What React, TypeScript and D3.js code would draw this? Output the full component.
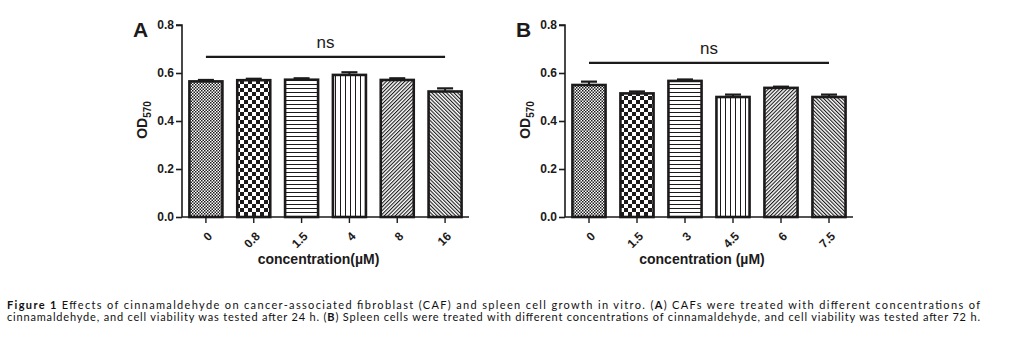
import { useEffect, useRef } from 'react';
import * as d3 from 'd3';

// panel A: CAF, 24 h
const catsA = ['0', '0.8', '1.5', '4', '8', '16'];
const valsA = [0.565, 0.57, 0.572, 0.592, 0.571, 0.523];
const errA = [0.006, 0.006, 0.006, 0.011, 0.007, 0.013];

// panel B: spleen cells, 72 h
const catsB = ['0', '1.5', '3', '4.5', '6', '7.5'];
const valsB = [0.55, 0.515, 0.567, 0.5, 0.538, 0.5];
const errB = [0.014, 0.008, 0.006, 0.01, 0.005, 0.01];

const yTicks = [0, 0.2, 0.4, 0.6, 0.8];
const patterns = ['fineCheck', 'coarseCheck', 'hLines', 'vLines', 'diagUp', 'diagDown'];

const INK = '#1c1a1a';

const App = () => {
  const ref = useRef<SVGSVGElement>(null!);

  useEffect(() => {
    const svg = d3.select(ref.current);
    svg.selectAll('*').remove();

    const defs = svg.append('defs');
    const fc = defs.append('pattern').attr('id', 'fineCheck').attr('patternUnits', 'userSpaceOnUse').attr('width', 3).attr('height', 3);
    fc.append('rect').attr('width', 3).attr('height', 3).attr('fill', '#fff');
    fc.append('rect').attr('width', 1.5).attr('height', 1.5).attr('fill', INK);
    fc.append('rect').attr('x', 1.5).attr('y', 1.5).attr('width', 1.5).attr('height', 1.5).attr('fill', INK);

    const cc = defs.append('pattern').attr('id', 'coarseCheck').attr('patternUnits', 'userSpaceOnUse').attr('width', 8).attr('height', 8);
    cc.append('rect').attr('width', 8).attr('height', 8).attr('fill', '#fff');
    cc.append('rect').attr('width', 4).attr('height', 4).attr('fill', INK);
    cc.append('rect').attr('x', 4).attr('y', 4).attr('width', 4).attr('height', 4).attr('fill', INK);

    const hl = defs.append('pattern').attr('id', 'hLines').attr('patternUnits', 'userSpaceOnUse').attr('width', 4).attr('height', 4);
    hl.append('rect').attr('width', 4).attr('height', 4).attr('fill', '#fff');
    hl.append('rect').attr('width', 4).attr('height', 1).attr('fill', INK);

    const vl = defs.append('pattern').attr('id', 'vLines').attr('patternUnits', 'userSpaceOnUse').attr('width', 5).attr('height', 5);
    vl.append('rect').attr('width', 5).attr('height', 5).attr('fill', '#fff');
    vl.append('rect').attr('width', 1).attr('height', 5).attr('fill', INK);

    [['diagUp', 45], ['diagDown', -45]].forEach(([id, a]) => {
      const p = defs.append('pattern').attr('id', id as string).attr('patternUnits', 'userSpaceOnUse')
        .attr('width', 2.6).attr('height', 2.6).attr('patternTransform', `rotate(${a})`);
      p.append('rect').attr('width', 2.6).attr('height', 2.6).attr('fill', '#fff');
      p.append('rect').attr('width', 1.1).attr('height', 2.6).attr('fill', INK);
    });

    const y = d3.scaleLinear().domain([0, 0.8]).range([217, 25]);

    const drawPanel = (
      x0: number, x1: number, letter: string, cats: string[], vals: number[], errs: number[],
      nsLevel: number, title: string,
    ) => {
      const g = svg.append('g');
      const x = d3.scaleBand().domain(cats).range([x0, x1]).paddingInner(0.31).paddingOuter(0.155);

      // bars
      cats.forEach((c, i) => {
        const bx = x(c)!;
        const cx = bx + x.bandwidth() / 2;
        g.append('line').attr('x1', cx).attr('x2', cx).attr('y1', y(vals[i])).attr('y2', y(vals[i] + errs[i]))
          .attr('stroke', INK).attr('stroke-width', 2);
        g.append('line').attr('x1', cx - 8).attr('x2', cx + 8).attr('y1', y(vals[i] + errs[i])).attr('y2', y(vals[i] + errs[i]))
          .attr('stroke', INK).attr('stroke-width', 2.2);
        g.append('rect').attr('x', bx).attr('y', y(vals[i])).attr('width', x.bandwidth()).attr('height', y(0) - y(vals[i]))
          .attr('fill', `url(#${patterns[i]})`).attr('stroke', INK).attr('stroke-width', 2.6);
      });

      // y axis
      const ya = g.append('g').attr('transform', `translate(${x0},0)`)
        .call(d3.axisLeft(y).tickValues(yTicks).tickFormat(d3.format('.1f')).tickSize(6).tickPadding(2));
      ya.select('.domain').attr('stroke', INK).attr('stroke-width', 1.6).attr('d', `M-6,${y(0.8)}H0V${y(0)}`);
      ya.selectAll('line').attr('stroke', INK).attr('stroke-width', 1.6);
      ya.selectAll('text').attr('font-family', 'Liberation Sans, Arial, sans-serif').attr('font-weight', 'bold')
        .attr('font-size', 12).attr('fill', INK);

      // x axis
      const xa = g.append('g').attr('transform', `translate(0,${y(0)})`)
        .call(d3.axisBottom(x).tickSize(6).tickSizeOuter(0));
      xa.select('.domain').attr('stroke', INK).attr('stroke-width', 1.6).attr('d', `M${x0},0H${x1}`);
      xa.selectAll('line').attr('stroke', INK).attr('stroke-width', 1.4);
      xa.selectAll('text')
        .attr('font-family', 'Liberation Sans, Arial, sans-serif').attr('font-weight', 'bold').attr('font-size', 12)
        .attr('fill', INK).attr('text-anchor', 'end').attr('y', 0).attr('dy', '0.35em')
        .attr('transform', 'translate(4,17) rotate(-45)');

      // labels
      g.append('text').attr('x', x0 - 49).attr('y', 37).text(letter)
        .attr('font-family', 'Liberation Sans, Arial, sans-serif').attr('font-weight', 'bold').attr('font-size', 21).attr('fill', INK);
      const yl = g.append('text').attr('transform', `translate(${x0 - 35},120) rotate(-90)`).attr('text-anchor', 'middle')
        .attr('font-family', 'Liberation Sans, Arial, sans-serif').attr('font-weight', 'bold').attr('font-size', 14).attr('fill', INK);
      yl.append('tspan').text('OD');
      yl.append('tspan').text('570').attr('font-size', 10).attr('dy', 4);
      g.append('text').attr('x', (x0 + x1) / 2 - 7).attr('y', 264).attr('text-anchor', 'middle').text(title)
        .attr('font-family', 'Liberation Sans, Arial, sans-serif').attr('font-weight', 'bold').attr('font-size', 14).attr('fill', INK);

      // significance bar
      const c0 = x(cats[0])! + x.bandwidth() / 2;
      const c1 = x(cats[cats.length - 1])! + x.bandwidth() / 2;
      g.append('line').attr('x1', c0).attr('x2', c1).attr('y1', y(nsLevel)).attr('y2', y(nsLevel))
        .attr('stroke', INK).attr('stroke-width', 2.4);
      g.append('text').attr('x', (c0 + c1) / 2).attr('y', y(nsLevel) - 9).attr('text-anchor', 'middle').text('ns')
        .attr('font-family', 'Liberation Sans, Arial, sans-serif').attr('font-size', 17).attr('fill', INK);
    };

    drawPanel(182, 469, 'A', catsA, valsA, errA, 0.667, 'concentration(µM)');
    drawPanel(565, 853, 'B', catsB, valsB, errB, 0.642, 'concentration (µM)');

    // caption
    const cap = svg.append('g').attr('font-family', 'Lato, "Open Sans", sans-serif').attr('font-size', 11).attr('fill', '#111');
    const l1 = cap.append('text').attr('x', 7).attr('y', 308.5).attr('textLength', 973).attr('lengthAdjust', 'spacing');
    l1.append('tspan').attr('font-weight', 'bold').text('Figure 1');
    l1.append('tspan').text(' Effects of cinnamaldehyde on cancer-associated fibroblast (CAF) and spleen cell growth in vitro. (');
    l1.append('tspan').attr('font-weight', 'bold').text('A');
    l1.append('tspan').text(') CAFs were treated with different concentrations of');
    const l2 = cap.append('text').attr('x', 7).attr('y', 321).attr('textLength', 973).attr('lengthAdjust', 'spacing');
    l2.append('tspan').text('cinnamaldehyde, and cell viability was tested after 24 h. (');
    l2.append('tspan').attr('font-weight', 'bold').text('B');
    l2.append('tspan').text(') Spleen cells were treated with different concentrations of cinnamaldehyde, and cell viability was tested after 72 h.');

    return () => {
      svg.selectAll('*').remove();
    };
  }, []);

  return (
    <svg
      ref={ref}
      width={1014}
      height={352}
      style={{ position: 'absolute', left: 0, top: 0, background: '#fff' }}
    />
  );
};

export default App;
